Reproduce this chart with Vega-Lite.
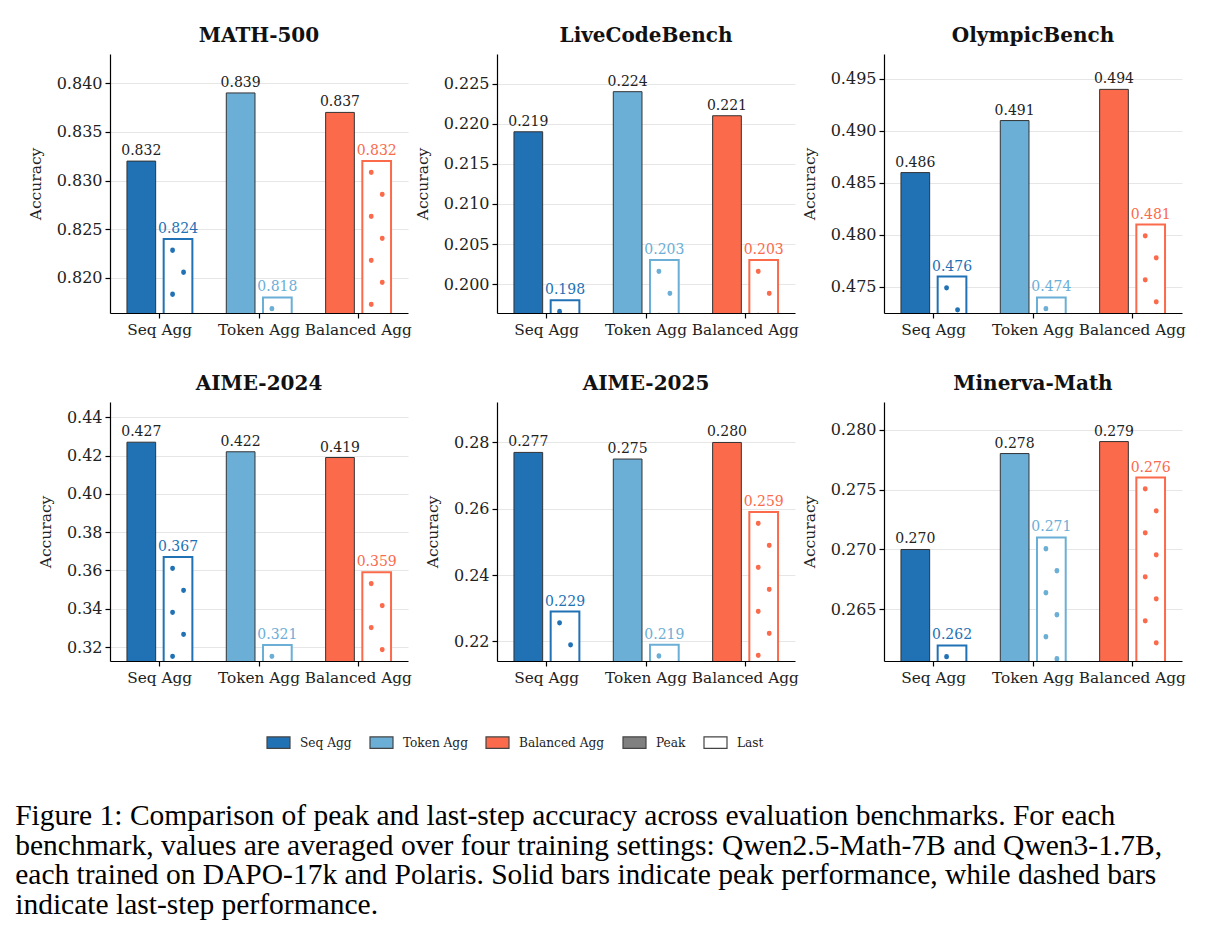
{
  "$schema": "https://vega.github.io/schema/vega-lite/v6.json",
  "background": "white",
  "padding": {"left": 15, "top": 26, "right": 5, "bottom": 5},
  "data": {
    "values": [
      {"bench": "MATH-500", "agg": "Seq Agg", "kind": "Peak", "acc": 0.832},
      {"bench": "MATH-500", "agg": "Seq Agg", "kind": "Last", "acc": 0.824},
      {"bench": "MATH-500", "agg": "Token Agg", "kind": "Peak", "acc": 0.839},
      {"bench": "MATH-500", "agg": "Token Agg", "kind": "Last", "acc": 0.818},
      {"bench": "MATH-500", "agg": "Balanced Agg", "kind": "Peak", "acc": 0.837},
      {"bench": "MATH-500", "agg": "Balanced Agg", "kind": "Last", "acc": 0.832},
      {"bench": "LiveCodeBench", "agg": "Seq Agg", "kind": "Peak", "acc": 0.219},
      {"bench": "LiveCodeBench", "agg": "Seq Agg", "kind": "Last", "acc": 0.198},
      {"bench": "LiveCodeBench", "agg": "Token Agg", "kind": "Peak", "acc": 0.224},
      {"bench": "LiveCodeBench", "agg": "Token Agg", "kind": "Last", "acc": 0.203},
      {"bench": "LiveCodeBench", "agg": "Balanced Agg", "kind": "Peak", "acc": 0.221},
      {"bench": "LiveCodeBench", "agg": "Balanced Agg", "kind": "Last", "acc": 0.203},
      {"bench": "OlympicBench", "agg": "Seq Agg", "kind": "Peak", "acc": 0.486},
      {"bench": "OlympicBench", "agg": "Seq Agg", "kind": "Last", "acc": 0.476},
      {"bench": "OlympicBench", "agg": "Token Agg", "kind": "Peak", "acc": 0.491},
      {"bench": "OlympicBench", "agg": "Token Agg", "kind": "Last", "acc": 0.474},
      {"bench": "OlympicBench", "agg": "Balanced Agg", "kind": "Peak", "acc": 0.494},
      {"bench": "OlympicBench", "agg": "Balanced Agg", "kind": "Last", "acc": 0.481},
      {"bench": "AIME-2024", "agg": "Seq Agg", "kind": "Peak", "acc": 0.427},
      {"bench": "AIME-2024", "agg": "Seq Agg", "kind": "Last", "acc": 0.367},
      {"bench": "AIME-2024", "agg": "Token Agg", "kind": "Peak", "acc": 0.422},
      {"bench": "AIME-2024", "agg": "Token Agg", "kind": "Last", "acc": 0.321},
      {"bench": "AIME-2024", "agg": "Balanced Agg", "kind": "Peak", "acc": 0.419},
      {"bench": "AIME-2024", "agg": "Balanced Agg", "kind": "Last", "acc": 0.359},
      {"bench": "AIME-2025", "agg": "Seq Agg", "kind": "Peak", "acc": 0.277},
      {"bench": "AIME-2025", "agg": "Seq Agg", "kind": "Last", "acc": 0.229},
      {"bench": "AIME-2025", "agg": "Token Agg", "kind": "Peak", "acc": 0.275},
      {"bench": "AIME-2025", "agg": "Token Agg", "kind": "Last", "acc": 0.219},
      {"bench": "AIME-2025", "agg": "Balanced Agg", "kind": "Peak", "acc": 0.280},
      {"bench": "AIME-2025", "agg": "Balanced Agg", "kind": "Last", "acc": 0.259},
      {"bench": "Minerva-Math", "agg": "Seq Agg", "kind": "Peak", "acc": 0.270},
      {"bench": "Minerva-Math", "agg": "Seq Agg", "kind": "Last", "acc": 0.262},
      {"bench": "Minerva-Math", "agg": "Token Agg", "kind": "Peak", "acc": 0.278},
      {"bench": "Minerva-Math", "agg": "Token Agg", "kind": "Last", "acc": 0.271},
      {"bench": "Minerva-Math", "agg": "Balanced Agg", "kind": "Peak", "acc": 0.279},
      {"bench": "Minerva-Math", "agg": "Balanced Agg", "kind": "Last", "acc": 0.276}
    ]
  },
  "title": {
    "text": [
      "Figure 1: Comparison of peak and last-step accuracy across evaluation benchmarks. For each",
      "benchmark, values are averaged over four training settings: Qwen2.5-Math-7B and Qwen3-1.7B,",
      "each trained on DAPO-17k and Polaris. Solid bars indicate peak performance, while dashed bars",
      "indicate last-step performance."
    ],
    "orient": "bottom",
    "anchor": "start",
    "font": "Liberation Serif",
    "fontSize": 29.5,
    "fontWeight": "normal",
    "color": "#000000",
    "lineHeight": 29.5,
    "dx": -13,
    "offset": 51
  },
  "columns": 3,
  "spacing": 89,
  "bounds": "flush",
  "concat": [
    {
      "width": 298, "height": 259,
      "title": "MATH-500",
      "transform": [{"filter": "datum.bench === 'MATH-500'"}],
      "encoding": {
        "x": {"field": "agg", "type": "nominal", "sort": ["Seq Agg", "Token Agg", "Balanced Agg"], "scale": {"paddingInner": 0, "paddingOuter": 0}, "axis": {"title": null, "labelAngle": 0}},
        "y": {"field": "acc", "type": "quantitative", "scale": {"domain": [0.8164, 0.843], "zero": false, "nice": false}, "axis": {"title": "Accuracy", "values": [0.82, 0.825, 0.83, 0.835, 0.84], "format": ".3f"}}
      },
      "layer": [
        {"transform": [{"filter": "datum.kind === 'Peak'"}], "mark": {"type": "bar", "clip": true, "stroke": "#333333", "strokeWidth": 1},
         "encoding": {
           "xOffset": {"field": "kind", "type": "nominal", "sort": ["Peak", "Last"], "scale": {"paddingInner": 0.218, "paddingOuter": 0.462}},
           "fill": {"field": "agg", "type": "nominal",
           "scale": {"domain": ["Seq Agg", "Token Agg", "Balanced Agg", "Peak", "Last"], "range": ["#2171b5", "#6baed6", "#fb6a4a", "#808080", "#ffffff"]},
           "legend": {"orient": "none", "legendX": 156, "legendY": 676, "direction": "horizontal", "title": null,
             "symbolType": "M-1,-0.5H1V0.5H-1Z", "symbolSize": 529, "symbolStrokeColor": "#444444", "symbolStrokeWidth": 1.2,
             "labelFont": "DejaVu Serif Condensed", "labelFontSize": 13.5, "labelColor": "#222222", "labelOffset": 9, "columnPadding": 15,
             "encode": {"symbols": {"update": {
               "stroke": {"condition": {"test": "datum.label === 'Last'", "value": "#9a9a9a"}, "value": "#444444"},
               "strokeWidth": {"condition": {"test": "datum.label === 'Last'", "value": 2}, "value": 1.2}}}}}}}},
        {"transform": [{"filter": "datum.kind === 'Last'"}], "mark": {"type": "bar", "clip": true, "fill": "#ffffff", "strokeWidth": 2},
         "encoding": {
           "xOffset": {"field": "kind", "type": "nominal", "sort": ["Peak", "Last"]},
           "stroke": {"field": "agg", "type": "nominal", "scale": {"domain": ["Seq Agg", "Token Agg", "Balanced Agg"], "range": ["#2171b5", "#6baed6", "#fb6a4a"]}, "legend": null}}},
        {"transform": [{"filter": "datum.kind === 'Last'"}], "mark": {"type": "rule", "clip": true, "xOffset": 12.9, "strokeWidth": 4.8, "strokeCap": "round", "strokeDash": [0.5, 43.5], "strokeDashOffset": 33},
         "encoding": {"y2": {"datum": 0}, "stroke": {"field": "agg", "type": "nominal", "legend": null}}},
        {"transform": [{"filter": "datum.kind === 'Last'"}], "mark": {"type": "rule", "clip": true, "xOffset": 23.9, "strokeWidth": 4.8, "strokeCap": "round", "strokeDash": [0.5, 43.5], "strokeDashOffset": 11},
         "encoding": {"y2": {"datum": 0}, "stroke": {"field": "agg", "type": "nominal", "legend": null}}},
        {"transform": [{"filter": "datum.kind === 'Peak'"}], "mark": {"type": "text", "baseline": "bottom", "dy": -3, "font": "DejaVu Serif", "fontSize": 14, "fill": "#222222"},
         "encoding": {"xOffset": {"field": "kind", "type": "nominal", "sort": ["Peak", "Last"]}, "text": {"field": "acc", "type": "quantitative", "format": ".3f"}}},
        {"transform": [{"filter": "datum.kind === 'Last'"}], "mark": {"type": "text", "baseline": "bottom", "dy": -3, "font": "DejaVu Serif", "fontSize": 14},
         "encoding": {"xOffset": {"field": "kind", "type": "nominal", "sort": ["Peak", "Last"]}, "text": {"field": "acc", "type": "quantitative", "format": ".3f"}, "color": {"field": "agg", "type": "nominal", "scale": {"domain": ["Seq Agg", "Token Agg", "Balanced Agg"], "range": ["#2171b5", "#6baed6", "#fb6a4a"]}, "legend": null}}}
      ]
    },
    {
      "width": 298, "height": 259,
      "title": "LiveCodeBench",
      "transform": [{"filter": "datum.bench === 'LiveCodeBench'"}],
      "encoding": {
        "x": {"field": "agg", "type": "nominal", "sort": ["Seq Agg", "Token Agg", "Balanced Agg"], "scale": {"paddingInner": 0, "paddingOuter": 0}, "axis": {"title": null, "labelAngle": 0}},
        "y": {"field": "acc", "type": "quantitative", "scale": {"domain": [0.1964, 0.2287], "zero": false, "nice": false}, "axis": {"title": "Accuracy", "values": [0.2, 0.205, 0.21, 0.215, 0.22, 0.225], "format": ".3f"}}
      },
      "layer": [
        {"transform": [{"filter": "datum.kind === 'Peak'"}], "mark": {"type": "bar", "clip": true, "stroke": "#333333", "strokeWidth": 1},
         "encoding": {"xOffset": {"field": "kind", "type": "nominal", "sort": ["Peak", "Last"], "scale": {"paddingInner": 0.218, "paddingOuter": 0.462}}, "fill": {"field": "agg", "type": "nominal"}}},
        {"transform": [{"filter": "datum.kind === 'Last'"}], "mark": {"type": "bar", "clip": true, "fill": "#ffffff", "strokeWidth": 2},
         "encoding": {"xOffset": {"field": "kind", "type": "nominal", "sort": ["Peak", "Last"]}, "stroke": {"field": "agg", "type": "nominal", "legend": null}}},
        {"transform": [{"filter": "datum.kind === 'Last'"}], "mark": {"type": "rule", "clip": true, "xOffset": 12.9, "strokeWidth": 4.8, "strokeCap": "round", "strokeDash": [0.5, 43.5], "strokeDashOffset": 33},
         "encoding": {"y2": {"datum": 0}, "stroke": {"field": "agg", "type": "nominal", "legend": null}}},
        {"transform": [{"filter": "datum.kind === 'Last'"}], "mark": {"type": "rule", "clip": true, "xOffset": 23.9, "strokeWidth": 4.8, "strokeCap": "round", "strokeDash": [0.5, 43.5], "strokeDashOffset": 11},
         "encoding": {"y2": {"datum": 0}, "stroke": {"field": "agg", "type": "nominal", "legend": null}}},
        {"transform": [{"filter": "datum.kind === 'Peak'"}], "mark": {"type": "text", "baseline": "bottom", "dy": -3, "font": "DejaVu Serif", "fontSize": 14, "fill": "#222222"},
         "encoding": {"xOffset": {"field": "kind", "type": "nominal", "sort": ["Peak", "Last"]}, "text": {"field": "acc", "type": "quantitative", "format": ".3f"}}},
        {"transform": [{"filter": "datum.kind === 'Last'"}], "mark": {"type": "text", "baseline": "bottom", "dy": -3, "font": "DejaVu Serif", "fontSize": 14},
         "encoding": {"xOffset": {"field": "kind", "type": "nominal", "sort": ["Peak", "Last"]}, "text": {"field": "acc", "type": "quantitative", "format": ".3f"}, "color": {"field": "agg", "type": "nominal", "legend": null}}}
      ]
    },
    {
      "width": 298, "height": 259,
      "title": "OlympicBench",
      "transform": [{"filter": "datum.bench === 'OlympicBench'"}],
      "encoding": {
        "x": {"field": "agg", "type": "nominal", "sort": ["Seq Agg", "Token Agg", "Balanced Agg"], "scale": {"paddingInner": 0, "paddingOuter": 0}, "axis": {"title": null, "labelAngle": 0}},
        "y": {"field": "acc", "type": "quantitative", "scale": {"domain": [0.4725, 0.4974], "zero": false, "nice": false}, "axis": {"title": "Accuracy", "values": [0.475, 0.48, 0.485, 0.49, 0.495], "format": ".3f"}}
      },
      "layer": [
        {"transform": [{"filter": "datum.kind === 'Peak'"}], "mark": {"type": "bar", "clip": true, "stroke": "#333333", "strokeWidth": 1},
         "encoding": {"xOffset": {"field": "kind", "type": "nominal", "sort": ["Peak", "Last"], "scale": {"paddingInner": 0.218, "paddingOuter": 0.462}}, "fill": {"field": "agg", "type": "nominal"}}},
        {"transform": [{"filter": "datum.kind === 'Last'"}], "mark": {"type": "bar", "clip": true, "fill": "#ffffff", "strokeWidth": 2},
         "encoding": {"xOffset": {"field": "kind", "type": "nominal", "sort": ["Peak", "Last"]}, "stroke": {"field": "agg", "type": "nominal", "legend": null}}},
        {"transform": [{"filter": "datum.kind === 'Last'"}], "mark": {"type": "rule", "clip": true, "xOffset": 12.9, "strokeWidth": 4.8, "strokeCap": "round", "strokeDash": [0.5, 43.5], "strokeDashOffset": 33},
         "encoding": {"y2": {"datum": 0}, "stroke": {"field": "agg", "type": "nominal", "legend": null}}},
        {"transform": [{"filter": "datum.kind === 'Last'"}], "mark": {"type": "rule", "clip": true, "xOffset": 23.9, "strokeWidth": 4.8, "strokeCap": "round", "strokeDash": [0.5, 43.5], "strokeDashOffset": 11},
         "encoding": {"y2": {"datum": 0}, "stroke": {"field": "agg", "type": "nominal", "legend": null}}},
        {"transform": [{"filter": "datum.kind === 'Peak'"}], "mark": {"type": "text", "baseline": "bottom", "dy": -3, "font": "DejaVu Serif", "fontSize": 14, "fill": "#222222"},
         "encoding": {"xOffset": {"field": "kind", "type": "nominal", "sort": ["Peak", "Last"]}, "text": {"field": "acc", "type": "quantitative", "format": ".3f"}}},
        {"transform": [{"filter": "datum.kind === 'Last'"}], "mark": {"type": "text", "baseline": "bottom", "dy": -3, "font": "DejaVu Serif", "fontSize": 14},
         "encoding": {"xOffset": {"field": "kind", "type": "nominal", "sort": ["Peak", "Last"]}, "text": {"field": "acc", "type": "quantitative", "format": ".3f"}, "color": {"field": "agg", "type": "nominal", "legend": null}}}
      ]
    },
    {
      "width": 298, "height": 259,
      "title": "AIME-2024",
      "transform": [{"filter": "datum.bench === 'AIME-2024'"}],
      "encoding": {
        "x": {"field": "agg", "type": "nominal", "sort": ["Seq Agg", "Token Agg", "Balanced Agg"], "scale": {"paddingInner": 0, "paddingOuter": 0}, "axis": {"title": null, "labelAngle": 0}},
        "y": {"field": "acc", "type": "quantitative", "scale": {"domain": [0.3127, 0.448], "zero": false, "nice": false}, "axis": {"title": "Accuracy", "values": [0.32, 0.34, 0.36, 0.38, 0.4, 0.42, 0.44], "format": ".2f"}}
      },
      "layer": [
        {"transform": [{"filter": "datum.kind === 'Peak'"}], "mark": {"type": "bar", "clip": true, "stroke": "#333333", "strokeWidth": 1},
         "encoding": {"xOffset": {"field": "kind", "type": "nominal", "sort": ["Peak", "Last"], "scale": {"paddingInner": 0.218, "paddingOuter": 0.462}}, "fill": {"field": "agg", "type": "nominal"}}},
        {"transform": [{"filter": "datum.kind === 'Last'"}], "mark": {"type": "bar", "clip": true, "fill": "#ffffff", "strokeWidth": 2},
         "encoding": {"xOffset": {"field": "kind", "type": "nominal", "sort": ["Peak", "Last"]}, "stroke": {"field": "agg", "type": "nominal", "legend": null}}},
        {"transform": [{"filter": "datum.kind === 'Last'"}], "mark": {"type": "rule", "clip": true, "xOffset": 12.9, "strokeWidth": 4.8, "strokeCap": "round", "strokeDash": [0.5, 43.5], "strokeDashOffset": 33},
         "encoding": {"y2": {"datum": 0}, "stroke": {"field": "agg", "type": "nominal", "legend": null}}},
        {"transform": [{"filter": "datum.kind === 'Last'"}], "mark": {"type": "rule", "clip": true, "xOffset": 23.9, "strokeWidth": 4.8, "strokeCap": "round", "strokeDash": [0.5, 43.5], "strokeDashOffset": 11},
         "encoding": {"y2": {"datum": 0}, "stroke": {"field": "agg", "type": "nominal", "legend": null}}},
        {"transform": [{"filter": "datum.kind === 'Peak'"}], "mark": {"type": "text", "baseline": "bottom", "dy": -3, "font": "DejaVu Serif", "fontSize": 14, "fill": "#222222"},
         "encoding": {"xOffset": {"field": "kind", "type": "nominal", "sort": ["Peak", "Last"]}, "text": {"field": "acc", "type": "quantitative", "format": ".3f"}}},
        {"transform": [{"filter": "datum.kind === 'Last'"}], "mark": {"type": "text", "baseline": "bottom", "dy": -3, "font": "DejaVu Serif", "fontSize": 14},
         "encoding": {"xOffset": {"field": "kind", "type": "nominal", "sort": ["Peak", "Last"]}, "text": {"field": "acc", "type": "quantitative", "format": ".3f"}, "color": {"field": "agg", "type": "nominal", "legend": null}}}
      ]
    },
    {
      "width": 298, "height": 259,
      "title": "AIME-2025",
      "transform": [{"filter": "datum.bench === 'AIME-2025'"}],
      "encoding": {
        "x": {"field": "agg", "type": "nominal", "sort": ["Seq Agg", "Token Agg", "Balanced Agg"], "scale": {"paddingInner": 0, "paddingOuter": 0}, "axis": {"title": null, "labelAngle": 0}},
        "y": {"field": "acc", "type": "quantitative", "scale": {"domain": [0.2141, 0.2922], "zero": false, "nice": false}, "axis": {"title": "Accuracy", "values": [0.22, 0.24, 0.26, 0.28], "format": ".2f"}}
      },
      "layer": [
        {"transform": [{"filter": "datum.kind === 'Peak'"}], "mark": {"type": "bar", "clip": true, "stroke": "#333333", "strokeWidth": 1},
         "encoding": {"xOffset": {"field": "kind", "type": "nominal", "sort": ["Peak", "Last"], "scale": {"paddingInner": 0.218, "paddingOuter": 0.462}}, "fill": {"field": "agg", "type": "nominal"}}},
        {"transform": [{"filter": "datum.kind === 'Last'"}], "mark": {"type": "bar", "clip": true, "fill": "#ffffff", "strokeWidth": 2},
         "encoding": {"xOffset": {"field": "kind", "type": "nominal", "sort": ["Peak", "Last"]}, "stroke": {"field": "agg", "type": "nominal", "legend": null}}},
        {"transform": [{"filter": "datum.kind === 'Last'"}], "mark": {"type": "rule", "clip": true, "xOffset": 12.9, "strokeWidth": 4.8, "strokeCap": "round", "strokeDash": [0.5, 43.5], "strokeDashOffset": 33},
         "encoding": {"y2": {"datum": 0}, "stroke": {"field": "agg", "type": "nominal", "legend": null}}},
        {"transform": [{"filter": "datum.kind === 'Last'"}], "mark": {"type": "rule", "clip": true, "xOffset": 23.9, "strokeWidth": 4.8, "strokeCap": "round", "strokeDash": [0.5, 43.5], "strokeDashOffset": 11},
         "encoding": {"y2": {"datum": 0}, "stroke": {"field": "agg", "type": "nominal", "legend": null}}},
        {"transform": [{"filter": "datum.kind === 'Peak'"}], "mark": {"type": "text", "baseline": "bottom", "dy": -3, "font": "DejaVu Serif", "fontSize": 14, "fill": "#222222"},
         "encoding": {"xOffset": {"field": "kind", "type": "nominal", "sort": ["Peak", "Last"]}, "text": {"field": "acc", "type": "quantitative", "format": ".3f"}}},
        {"transform": [{"filter": "datum.kind === 'Last'"}], "mark": {"type": "text", "baseline": "bottom", "dy": -3, "font": "DejaVu Serif", "fontSize": 14},
         "encoding": {"xOffset": {"field": "kind", "type": "nominal", "sort": ["Peak", "Last"]}, "text": {"field": "acc", "type": "quantitative", "format": ".3f"}, "color": {"field": "agg", "type": "nominal", "legend": null}}}
      ]
    },
    {
      "width": 298, "height": 259,
      "title": "Minerva-Math",
      "transform": [{"filter": "datum.bench === 'Minerva-Math'"}],
      "encoding": {
        "x": {"field": "agg", "type": "nominal", "sort": ["Seq Agg", "Token Agg", "Balanced Agg"], "scale": {"paddingInner": 0, "paddingOuter": 0}, "axis": {"title": null, "labelAngle": 0}},
        "y": {"field": "acc", "type": "quantitative", "scale": {"domain": [0.2607, 0.2823], "zero": false, "nice": false}, "axis": {"title": "Accuracy", "values": [0.265, 0.27, 0.275, 0.28], "format": ".3f"}}
      },
      "layer": [
        {"transform": [{"filter": "datum.kind === 'Peak'"}], "mark": {"type": "bar", "clip": true, "stroke": "#333333", "strokeWidth": 1},
         "encoding": {"xOffset": {"field": "kind", "type": "nominal", "sort": ["Peak", "Last"], "scale": {"paddingInner": 0.218, "paddingOuter": 0.462}}, "fill": {"field": "agg", "type": "nominal"}}},
        {"transform": [{"filter": "datum.kind === 'Last'"}], "mark": {"type": "bar", "clip": true, "fill": "#ffffff", "strokeWidth": 2},
         "encoding": {"xOffset": {"field": "kind", "type": "nominal", "sort": ["Peak", "Last"]}, "stroke": {"field": "agg", "type": "nominal", "legend": null}}},
        {"transform": [{"filter": "datum.kind === 'Last'"}], "mark": {"type": "rule", "clip": true, "xOffset": 12.9, "strokeWidth": 4.8, "strokeCap": "round", "strokeDash": [0.5, 43.5], "strokeDashOffset": 33},
         "encoding": {"y2": {"datum": 0}, "stroke": {"field": "agg", "type": "nominal", "legend": null}}},
        {"transform": [{"filter": "datum.kind === 'Last'"}], "mark": {"type": "rule", "clip": true, "xOffset": 23.9, "strokeWidth": 4.8, "strokeCap": "round", "strokeDash": [0.5, 43.5], "strokeDashOffset": 11},
         "encoding": {"y2": {"datum": 0}, "stroke": {"field": "agg", "type": "nominal", "legend": null}}},
        {"transform": [{"filter": "datum.kind === 'Peak'"}], "mark": {"type": "text", "baseline": "bottom", "dy": -3, "font": "DejaVu Serif", "fontSize": 14, "fill": "#222222"},
         "encoding": {"xOffset": {"field": "kind", "type": "nominal", "sort": ["Peak", "Last"]}, "text": {"field": "acc", "type": "quantitative", "format": ".3f"}}},
        {"transform": [{"filter": "datum.kind === 'Last'"}], "mark": {"type": "text", "baseline": "bottom", "dy": -3, "font": "DejaVu Serif", "fontSize": 14},
         "encoding": {"xOffset": {"field": "kind", "type": "nominal", "sort": ["Peak", "Last"]}, "text": {"field": "acc", "type": "quantitative", "format": ".3f"}, "color": {"field": "agg", "type": "nominal", "legend": null}}}
      ]
    }
  ],
  "config": {
    "view": {"stroke": null},
    "font": "DejaVu Serif",
    "title": {"font": "DejaVu Serif", "fontSize": 20, "fontWeight": "bold", "color": "#111111", "offset": 8},
    "axis": {
      "domainColor": "#000000", "domainWidth": 1.2,
      "tickColor": "#000000", "tickWidth": 1.2, "tickSize": 5,
      "labelFont": "DejaVu Serif", "labelFontSize": 16, "labelColor": "#222222",
      "titleFont": "DejaVu Serif", "titleFontSize": 15.5, "titleFontWeight": "normal", "titleColor": "#222222"
    },
    "axisX": {"grid": false, "labelPadding": 4, "labelFontSize": 15.3},
    "axisY": {"grid": true, "gridColor": "#e6e6e6", "gridWidth": 1, "labelPadding": 3, "titlePadding": 13}
  }
}
